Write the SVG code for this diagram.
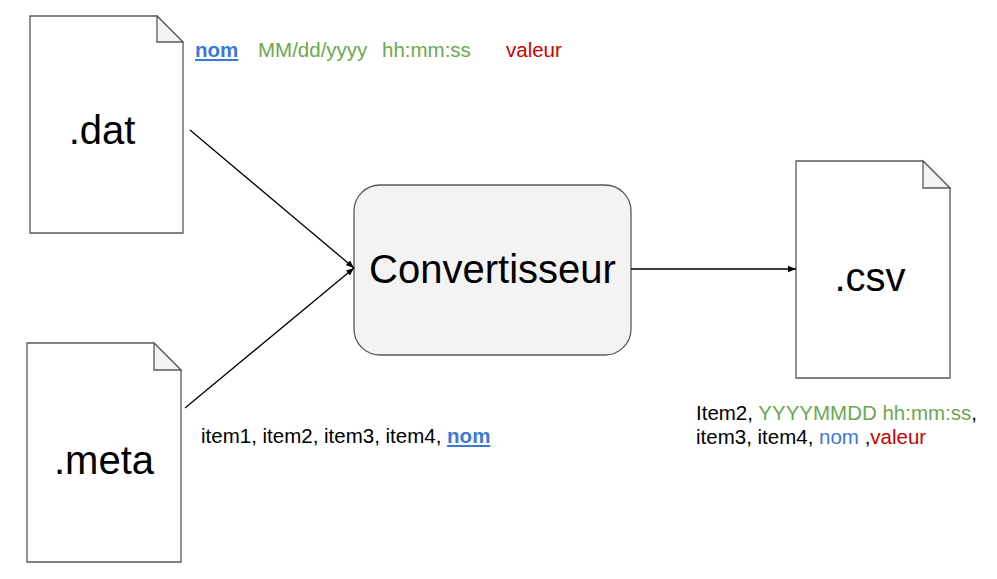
<svg xmlns="http://www.w3.org/2000/svg" width="997" height="579" viewBox="0 0 997 579">
<defs>
<style>
.doc{fill:#ffffff;stroke:#595959;stroke-width:1.3;stroke-linejoin:miter}
.fold{fill:#f3f3f3;stroke:#595959;stroke-width:1.3}
.big{font-family:"Liberation Sans",Arial,sans-serif;font-size:40px;fill:#000}
.t{font-family:"Liberation Sans",Arial,sans-serif;font-size:20.5px;fill:#000}
.blue{fill:#3c78d8}
.bu{fill:#3c78d8;font-weight:bold;text-decoration:underline}
.green{fill:#6aa84f}
.red{fill:#cc0000}
.conn{stroke:#000;stroke-width:1.3;fill:none;marker-end:url(#ah)}
</style>
<marker id="ah" viewBox="0 0 10 10" refX="10" refY="5" markerWidth="8" markerHeight="8" markerUnits="userSpaceOnUse" orient="auto">
<path d="M0,1 L10,5 L0,9 Z" fill="#000"/>
</marker>
</defs>
<rect width="997" height="579" fill="#ffffff"/>
<g id="dat">
<path class="doc" d="M30,16 H157 L183,42 V233 H30 Z"/>
<path class="fold" d="M157,16 V42 H183 Z"/>
<text class="big" x="102" y="144" text-anchor="middle">.dat</text>
</g>
<g id="meta">
<path class="doc" d="M27,343 H154 L181,370 V562 H27 Z"/>
<path class="fold" d="M154,343 V370 H181 Z"/>
<text class="big" x="104" y="474" text-anchor="middle">.meta</text>
</g>
<g id="conv">
<rect x="354" y="185" width="277" height="170" rx="26" ry="26" fill="#f3f3f3" stroke="#595959" stroke-width="1.3"/>
<text class="big" x="492.5" y="283" text-anchor="middle">Convertisseur</text>
</g>
<g id="csv">
<path class="doc" d="M796,161 H923 L950,188 V378 H796 Z"/>
<path class="fold" d="M923,161 V188 H950 Z"/>
<text class="big" x="870" y="291" text-anchor="middle">.csv</text>
</g>
<g id="connectors">
<line class="conn" x1="190" y1="130" x2="354" y2="268"/>
<line class="conn" x1="185" y1="408" x2="354" y2="268"/>
<line class="conn" x1="631" y1="269" x2="796" y2="269"/>
</g>
<g id="labels">
<text class="t" x="195" y="57"><tspan class="bu">nom</tspan></text>
<text class="t green" x="258" y="57">MM/dd/yyyy</text>
<text class="t green" x="382" y="57">hh:mm:ss</text>
<text class="t red" x="506" y="57">valeur</text>
<text class="t" x="201" y="443">item1, item2, item3, item4, <tspan class="bu">nom</tspan></text>
<text class="t" x="696" y="420">Item2, <tspan class="green">YYYYMMDD hh:mm:ss</tspan>,</text>
<text class="t" x="696" y="444">item3, item4, <tspan class="blue">nom</tspan> ,<tspan class="red">valeur</tspan></text>
</g>
</svg>
